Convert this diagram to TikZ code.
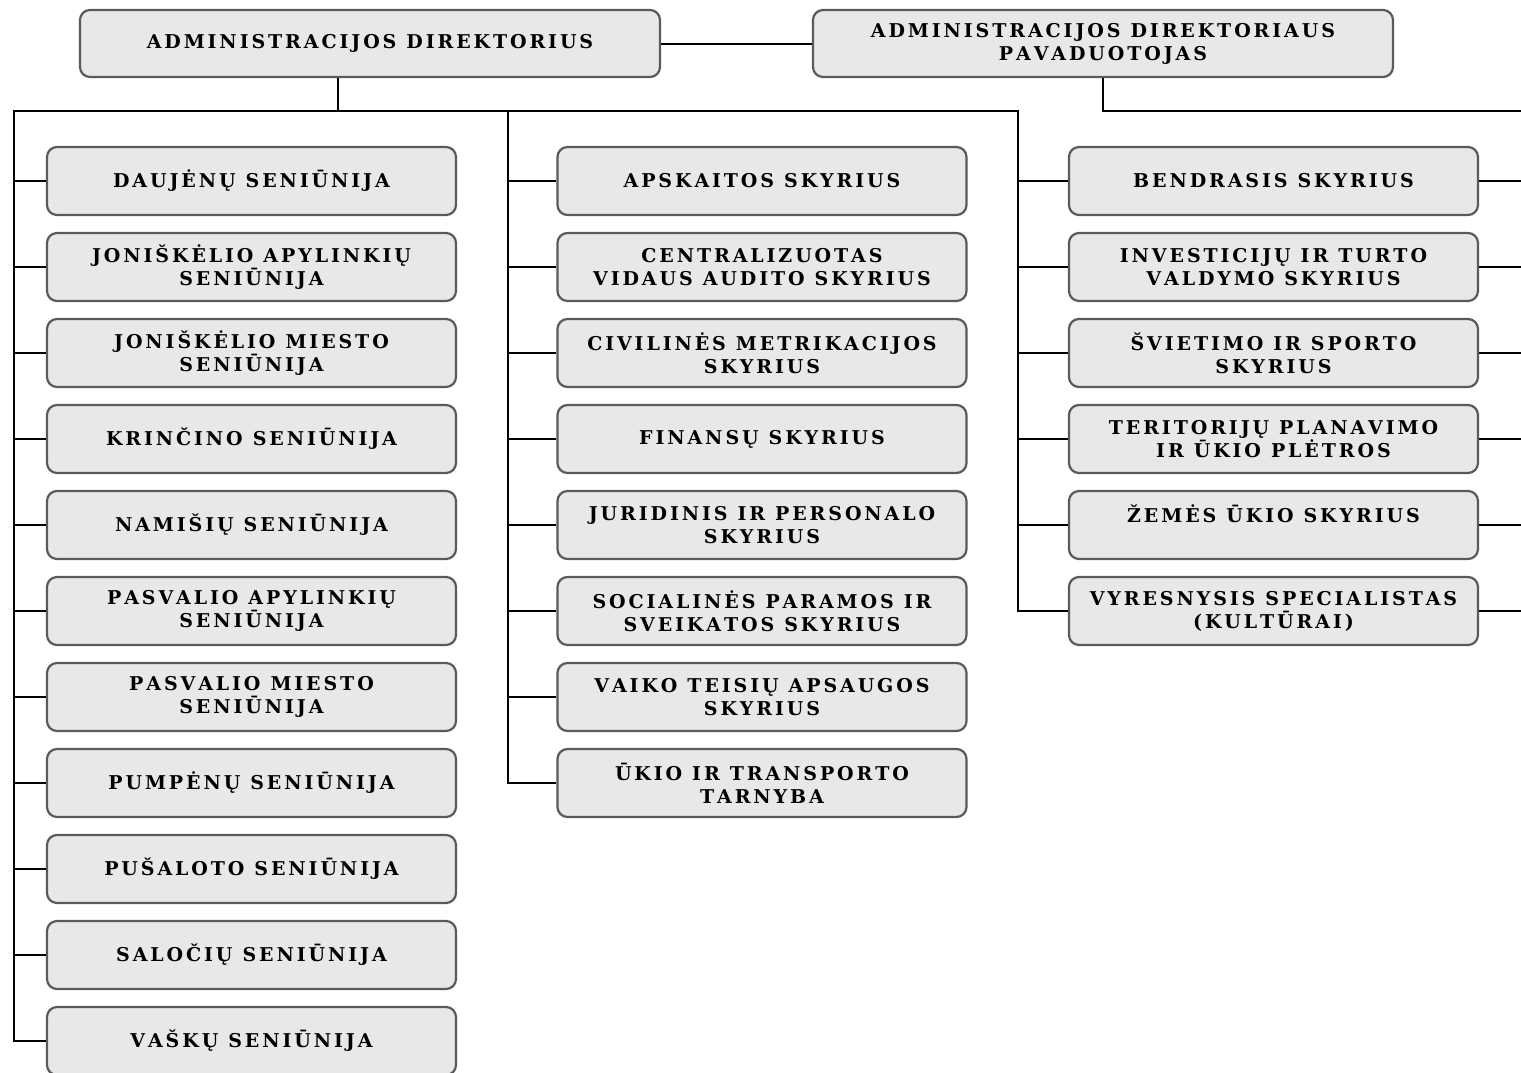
\documentclass[tikz,border=0pt]{standalone}
\usepackage{fontspec}
\newfontfamily\boxfont{DejaVu Serif}
\makeatletter
\newcommand\lsw[1]{\@tfor\lsc:=#1\do{\lsc\kern1.45pt}\unkern}
\newcommand\ls[1]{\ls@#1 \@nil}
\def\ls@#1 #2\@nil{\lsw{#1}\if\relax\detokenize{#2}\relax\else\hspace{5pt}\ls@#2\@nil\fi}
\makeatother
\definecolor{boxfill}{HTML}{E8E8E8}
\definecolor{boxedge}{HTML}{5A5A5A}
\tikzset{
  box/.style={draw=boxedge, fill=boxfill, rounded corners=5pt, line width=1.1pt,
    minimum width=204.5pt, minimum height=34pt, text width=204pt, align=center,
    inner sep=0pt, font=\boxfont\bfseries\fontsize{9.5}{11.5}\selectfont},
  topbox/.style={box, minimum width=290pt, minimum height=33.5pt, text width=288pt},
  conn/.style={draw=black, line width=1pt}
}
\begin{document}
\begin{tikzpicture}[x=0.5pt,y=-0.5pt]
\useasboundingbox[fill=white] (0,0) rectangle (1521,1072);
% top
\node[topbox] (dir) at (370,43.5) {\ls{ADMINISTRACIJOS DIREKTORIUS}};
\node[topbox] (dep) at (1103,43.5) {\ls{ADMINISTRACIJOS DIREKTORIAUS}\\\ls{PAVADUOTOJAS}};
% column 1
\node[box] (a1) at (251.5,181) {\ls{DAUJĖNŲ SENIŪNIJA}};
\node[box] (a2) at (251.5,267) {\ls{JONIŠKĖLIO APYLINKIŲ}\\\ls{SENIŪNIJA}};
\node[box] (a3) at (251.5,353) {\ls{JONIŠKĖLIO MIESTO}\\\ls{SENIŪNIJA}};
\node[box] (a4) at (251.5,439) {\ls{KRINČINO SENIŪNIJA}};
\node[box] (a5) at (251.5,525) {\ls{NAMIŠIŲ SENIŪNIJA}};
\node[box] (a6) at (251.5,611) {\ls{PASVALIO APYLINKIŲ}\\\ls{SENIŪNIJA}};
\node[box] (a7) at (251.5,697) {\ls{PASVALIO MIESTO}\\\ls{SENIŪNIJA}};
\node[box] (a8) at (251.5,783) {\ls{PUMPĖNŲ SENIŪNIJA}};
\node[box] (a9) at (251.5,869) {\ls{PUŠALOTO SENIŪNIJA}};
\node[box] (a10) at (251.5,955) {\ls{SALOČIŲ SENIŪNIJA}};
\node[box] (a11) at (251.5,1041) {\ls{VAŠKŲ SENIŪNIJA}};
% column 2
\node[box] (b1) at (762,181) {\ls{APSKAITOS SKYRIUS}};
\node[box] (b2) at (762,267) {\ls{CENTRALIZUOTAS}\\\ls{VIDAUS AUDITO SKYRIUS}};
\node[box] (b3) at (762,353) {\ls{CIVILINĖS METRIKACIJOS}\\\ls{SKYRIUS}};
\node[box] (b4) at (762,439) {\ls{FINANSŲ SKYRIUS}};
\node[box] (b5) at (762,525) {\ls{JURIDINIS IR PERSONALO}\\\ls{SKYRIUS}};
\node[box] (b6) at (762,611) {\ls{SOCIALINĖS PARAMOS IR}\\\ls{SVEIKATOS SKYRIUS}};
\node[box] (b7) at (762,697) {\ls{VAIKO TEISIŲ APSAUGOS}\\\ls{SKYRIUS}};
\node[box] (b8) at (762,783) {\ls{ŪKIO IR TRANSPORTO}\\\ls{TARNYBA}};
% column 3
\node[box] (c1) at (1273.5,181) {\ls{BENDRASIS SKYRIUS}};
\node[box] (c2) at (1273.5,267) {\ls{INVESTICIJŲ IR TURTO}\\\ls{VALDYMO SKYRIUS}};
\node[box] (c3) at (1273.5,353) {\ls{ŠVIETIMO IR SPORTO}\\\ls{SKYRIUS}};
\node[box] (c4) at (1273.5,439) {\ls{TERITORIJŲ PLANAVIMO}\\\ls{IR ŪKIO PLĖTROS}};
\node[box] (c5) at (1273.5,525) {\ls{ŽEMĖS ŪKIO SKYRIUS}\\\mbox{}};
\node[box] (c6) at (1273.5,611) {\ls{VYRESNYSIS SPECIALISTAS}\\\ls{(KULTŪRAI)}};
% bus coordinates
\coordinate (jd) at (338,111);
\coordinate (bl) at (14,111);
\coordinate (bm) at (508,111);
\coordinate (br) at (1018,111);
\coordinate (jp) at (1103,111);
\coordinate (er) at (1521,111);
% connectors
\draw[conn] (dir) -- (dep);
\draw[conn] (dir.south -| jd) -- (jd);
\draw[conn] (a11.west) -| (bl) -- (br) |- (c6.west);
\draw[conn] (bm) |- (b8.west);
\draw[conn] (dep.south) |- (er);
\foreach \n in {a1,a2,a3,a4,a5,a6,a7,a8,a9,a10}{
  \draw[conn] (\n.west) -- (\n.west -| bl);
}
\foreach \n in {b1,b2,b3,b4,b5,b6,b7}{
  \draw[conn] (\n.west) -- (\n.west -| bm);
}
\foreach \n in {c1,c2,c3,c4,c5}{
  \draw[conn] (\n.west) -- (\n.west -| br);
}
\foreach \n in {c1,c2,c3,c4,c5,c6}{
  \draw[conn] (\n.east) -- (\n.east -| er);
}
\end{tikzpicture}
\end{document}
